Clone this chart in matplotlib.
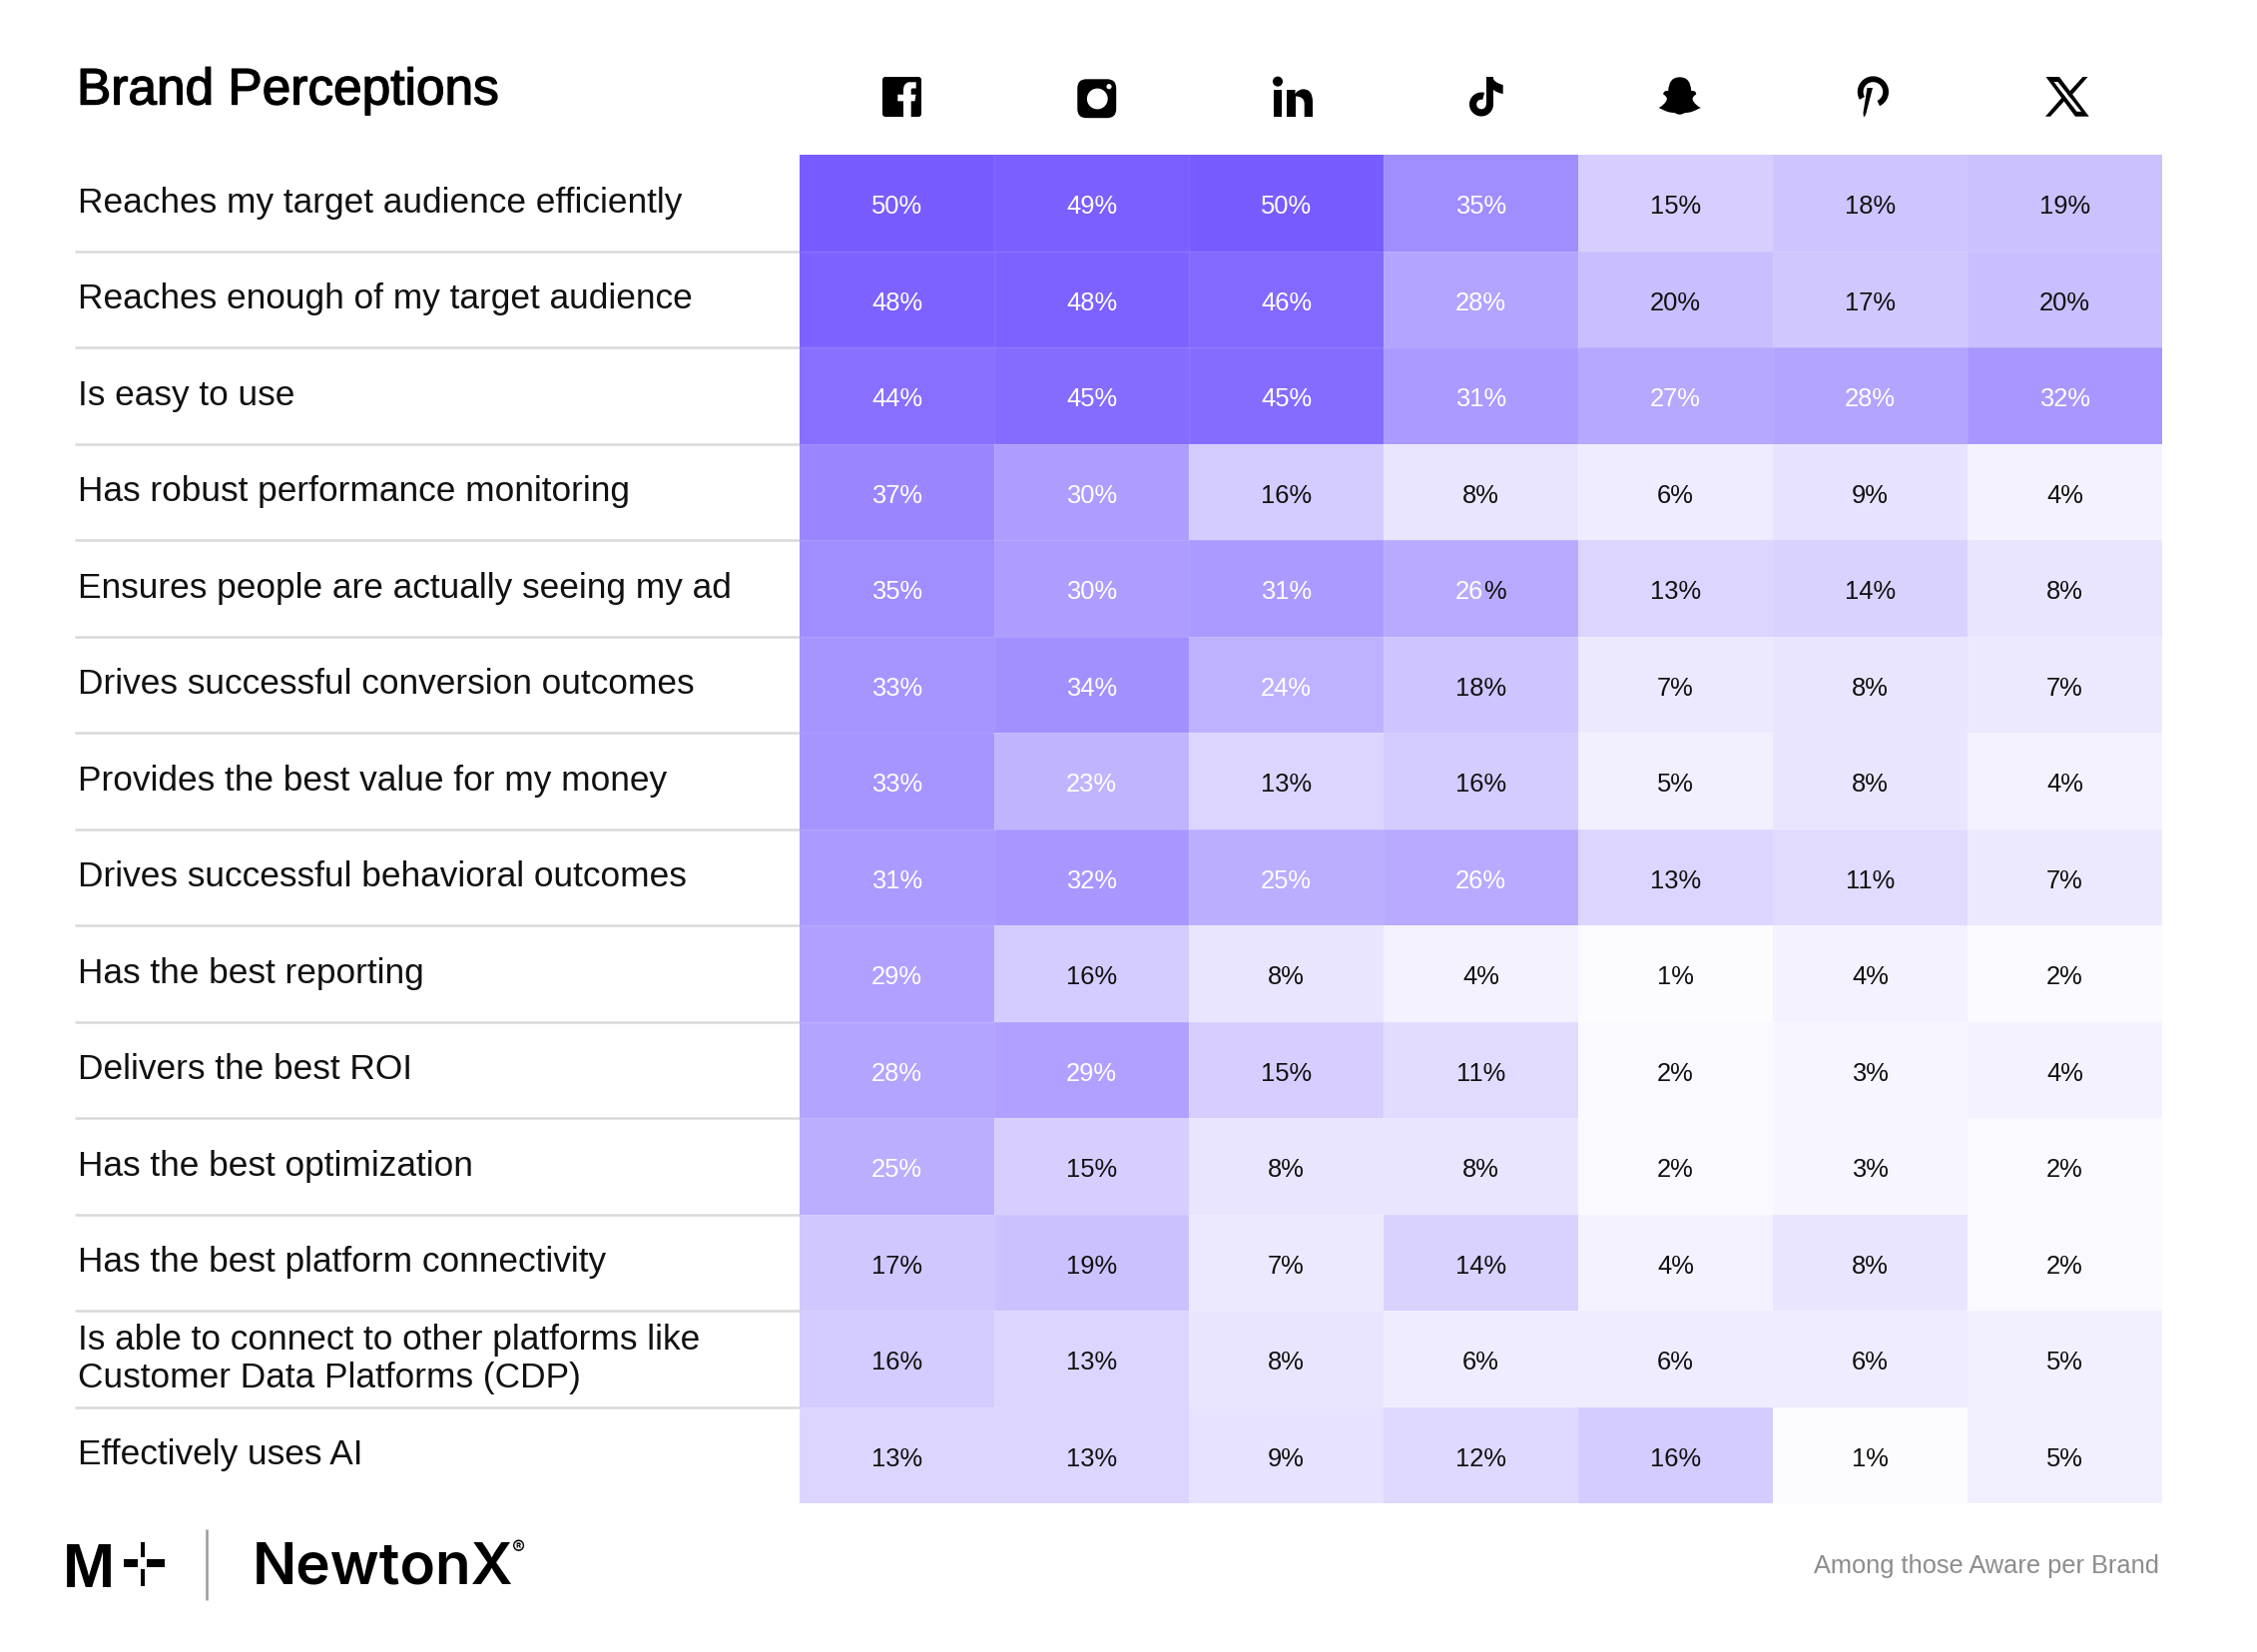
import matplotlib
matplotlib.use("Agg")
import numpy as np
import matplotlib.pyplot as plt
import matplotlib.patheffects as pe
from matplotlib.colors import LinearSegmentedColormap
from matplotlib.patches import Circle, FancyBboxPatch, PathPatch, Polygon, Rectangle, Wedge
from matplotlib.path import Path

W, H = 2261, 1656
FONT = "Liberation Sans"

rows = [
    "Reaches my target audience efficiently",
    "Reaches enough of my target audience",
    "Is easy to use",
    "Has robust performance monitoring",
    "Ensures people are actually seeing my ad",
    "Drives successful conversion outcomes",
    "Provides the best value for my money",
    "Drives successful behavioral outcomes",
    "Has the best reporting",
    "Delivers the best ROI",
    "Has the best optimization",
    "Has the best platform connectivity",
    "Is able to connect to other platforms like\nCustomer Data Platforms (CDP)",
    "Effectively uses AI",
]

facebook = [50, 48, 44, 37, 35, 33, 33, 31, 29, 28, 25, 17, 16, 13]
instagram = [49, 48, 45, 30, 30, 34, 23, 32, 16, 29, 15, 19, 13, 13]
linkedin = [50, 46, 45, 16, 31, 24, 13, 25, 8, 15, 8, 7, 8, 9]
tiktok = [35, 28, 31, 8, 26, 18, 16, 26, 4, 11, 8, 14, 6, 12]
snapchat = [15, 20, 27, 6, 13, 7, 5, 13, 1, 2, 2, 4, 6, 16]
pinterest = [18, 17, 28, 9, 14, 8, 8, 11, 4, 3, 3, 8, 6, 1]
x_brand = [19, 20, 32, 4, 8, 7, 4, 7, 2, 4, 2, 2, 5, 5]

values = np.array([facebook, instagram, linkedin, tiktok, snapchat, pinterest, x_brand]).T

# table box in pixels
LEFT, RIGHT, TOP, BOTTOM = 801, 2166, 156, 1507
ROW_H = (BOTTOM - TOP) / len(rows)

fig = plt.figure(figsize=(W / 100, H / 100), dpi=100, facecolor="white")

# page axes in pixel coordinates, for labels, icons and logos
bg = fig.add_axes([0, 0, 1, 1])
bg.set_xlim(0, W)
bg.set_ylim(H, 0)
bg.axis("off")

# heatmap
ax = fig.add_axes([LEFT / W, 1 - BOTTOM / H, (RIGHT - LEFT) / W, (BOTTOM - TOP) / H])
cmap = LinearSegmentedColormap.from_list("brand", ["#ffffff", "#785cff"])
ax.pcolormesh(np.arange(8), np.arange(15), values, cmap=cmap, vmin=0, vmax=50)
ax.set_xlim(0, 7)
ax.set_ylim(14, 0)
ax.axis("off")
ax.hlines(np.arange(1, 14), 0, 7, color="white", alpha=0.1, lw=1)
ax.vlines(np.arange(1, 7), 0, 14, color="white", alpha=0.07, lw=1)

for r in range(values.shape[0]):
    for c in range(values.shape[1]):
        v = values[r, c]
        color = "white" if v >= 23 else "#111111"
        if (r, c) == (4, 3):
            # this cell is two-toned in the original
            t = ax.text(c + 0.37, r + 0.53, str(v), color="white", ha="left", va="center",
                        fontsize=18.4, family=FONT)
            ax.annotate("%", xy=(1, 0), xycoords=t, ha="left", va="bottom", color="#111111",
                        fontsize=18.4, family=FONT)
        else:
            ax.text(c + 0.5, r + 0.53, f"{v}%", color=color, ha="center", va="center",
                    fontsize=18.4, family=FONT)

# row labels and rules
for i, label in enumerate(rows):
    y = TOP + ROW_H * (i + 0.5) - 1
    bg.text(78, y, label, ha="left", va="center", fontsize=25.4, family=FONT,
            color="#111111", linespacing=1.2)
    if i > 0:
        bg.plot([75, LEFT], [TOP + ROW_H * i] * 2, color="#d9d9d9", lw=1.8, solid_capstyle="butt")

bg.text(77, 92, "Brand Perceptions", ha="left", va="center", fontsize=37, family=FONT,
        color="black", path_effects=[pe.withStroke(linewidth=1.0, foreground="black")])
bg.text(2163, 1569, "Among those Aware per Brand", ha="right", va="center", fontsize=18.3,
        family=FONT, color="#8c8c8c")


def add_poly(points, **kw):
    bg.add_patch(Polygon(points, closed=True, facecolor=kw.get("fc", "black"), edgecolor="none"))


# facebook
bg.add_patch(FancyBboxPatch((886, 80), 35, 36, boxstyle="round,pad=2,rounding_size=3", fc="black", ec="none"))
f_path = Path(
    [(905, 118), (905, 102.3), (899.3, 102.3), (899.3, 95.7), (905, 95.7), (905, 91),
     (905, 85), (910, 83.3), (914, 83.3), (917.7, 83.3), (917.7, 89.5), (914, 89.5),
     (912.7, 89.5), (912.7, 91), (912.7, 95.7), (917.5, 95.7), (916.5, 102.3), (912.7, 102.3),
     (912.7, 118), (905, 118)],
    [Path.MOVETO, Path.LINETO, Path.LINETO, Path.LINETO, Path.LINETO, Path.LINETO,
     Path.CURVE3, Path.CURVE3, Path.LINETO, Path.LINETO, Path.LINETO, Path.LINETO,
     Path.CURVE3, Path.CURVE3, Path.LINETO, Path.LINETO, Path.LINETO, Path.LINETO,
     Path.LINETO, Path.CLOSEPOLY],
)
bg.add_patch(PathPatch(f_path, fc="white", ec="none"))

# instagram
bg.add_patch(FancyBboxPatch((1088, 89), 21.5, 21.5, boxstyle="round,pad=8.7,rounding_size=9", fc="black", ec="none"))
bg.add_patch(Circle((1099.3, 100), 10.4, fc="white", ec="none"))
bg.add_patch(Circle((1111, 87.7), 2.6, fc="white", ec="none"))

# linkedin
bg.add_patch(Circle((1280, 82.6), 5, fc="black", ec="none"))
bg.add_patch(Rectangle((1275.7, 91), 8.3, 27, fc="black", ec="none"))
n_path = Path(
    [(1289, 118), (1289, 91), (1297.5, 91), (1297.5, 95), (1300, 91), (1305, 90.3),
     (1315, 90), (1315, 103), (1315, 118), (1306.7, 118), (1306.7, 105), (1306.7, 97.5),
     (1298, 97.5), (1298, 105), (1298, 118), (1289, 118)],
    [Path.MOVETO, Path.LINETO, Path.LINETO, Path.LINETO, Path.CURVE3, Path.CURVE3,
     Path.CURVE3, Path.CURVE3, Path.LINETO, Path.LINETO, Path.LINETO, Path.CURVE3,
     Path.CURVE3, Path.LINETO, Path.LINETO, Path.CLOSEPOLY],
)
bg.add_patch(PathPatch(n_path, fc="black", ec="none"))

# tiktok
bg.add_patch(Wedge((1484, 105.5), 12, 0, 285, width=7.2, fc="black", ec="none"))
bg.add_patch(Rectangle((1488.5, 78.3), 7.5, 27.5, fc="black", ec="none"))
flag = Path(
    [(1495, 78.3), (1497, 84), (1505.7, 86), (1505.7, 95), (1499, 94), (1495, 90), (1495, 78.3)],
    [Path.MOVETO, Path.CURVE3, Path.CURVE3, Path.LINETO, Path.CURVE3, Path.CURVE3, Path.CLOSEPOLY],
)
bg.add_patch(PathPatch(flag, fc="black", ec="none"))

# snapchat, one side mirrored
cx = 1682.7
side = [(0, 78.3), (11, 78.3), (11.5, 92), (16.5, 91.5), (16.5, 95.5), (12, 98), (13, 101), (15, 106), (21, 109),
        (15, 112), (12, 113), (9, 114), (5, 114), (0, 117.5)]
right = [(cx + dx, y) for dx, y in side]
left = [(cx - dx, y) for dx, y in side[::-1]][1:]
verts = right + left + [right[0]]
codes = [Path.MOVETO] + [Path.CURVE3] * (len(verts) - 2) + [Path.CLOSEPOLY]
if (len(verts) - 2) % 2:
    codes[1] = Path.LINETO
bg.add_patch(PathPatch(Path(verts, codes), fc="black", ec="none"))

# pinterest
bg.add_patch(Wedge((1876.4, 93), 15.6, 150, 425, width=5.8, fc="black", ec="none"))
add_poly([(1870.5, 89), (1876, 89), (1869, 116), (1867, 118.5), (1866.5, 114)])

# x
outer = [(2049.5, 78), (2063, 78), (2092.7, 117.7), (2079, 117.7)]
inner = [(2057.5, 83), (2061.5, 83), (2085, 112.8), (2080.5, 112.8)]
bar = Path(outer + [outer[0]] + inner[::-1] + [inner[-1]],
           [Path.MOVETO] + [Path.LINETO] * 3 + [Path.CLOSEPOLY] + [Path.MOVETO] + [Path.LINETO] * 3 + [Path.CLOSEPOLY])
bg.add_patch(PathPatch(bar, fc="black", ec="none"))
add_poly([(2086.5, 78), (2091.5, 78), (2073.5, 98.5), (2071, 95)])
add_poly([(2049, 117.7), (2054, 117.7), (2070, 100), (2067.5, 96.5)])

# footer logos
bg.text(63, 1590, "M", ha="left", va="baseline", fontsize=45, family=FONT, fontweight="bold", color="black")
bg.add_patch(Rectangle((124, 1563.3), 14.3, 7.4, fc="black", ec="none"))
bg.add_patch(Rectangle((146.7, 1563.3), 18.3, 7.4, fc="black", ec="none"))
bg.add_patch(Rectangle((140.7, 1545.7), 4.3, 15.5, fc="black", ec="none"))
bg.add_patch(Rectangle((140.7, 1573), 4.3, 17, fc="black", ec="none"))
bg.plot([207.3, 207.3], [1533, 1604], color="#9a9a9a", lw=1.8, solid_capstyle="butt")
bg.text(253, 1587, "NewtonX", ha="left", va="baseline", fontsize=42, family="Inter",
        fontweight="semibold", color="black")
bg.text(520, 1552, "®", ha="center", va="center", fontsize=14, family="Inter", color="black")

fig.savefig("out.png", dpi=100, facecolor="white")
plt.close(fig)
